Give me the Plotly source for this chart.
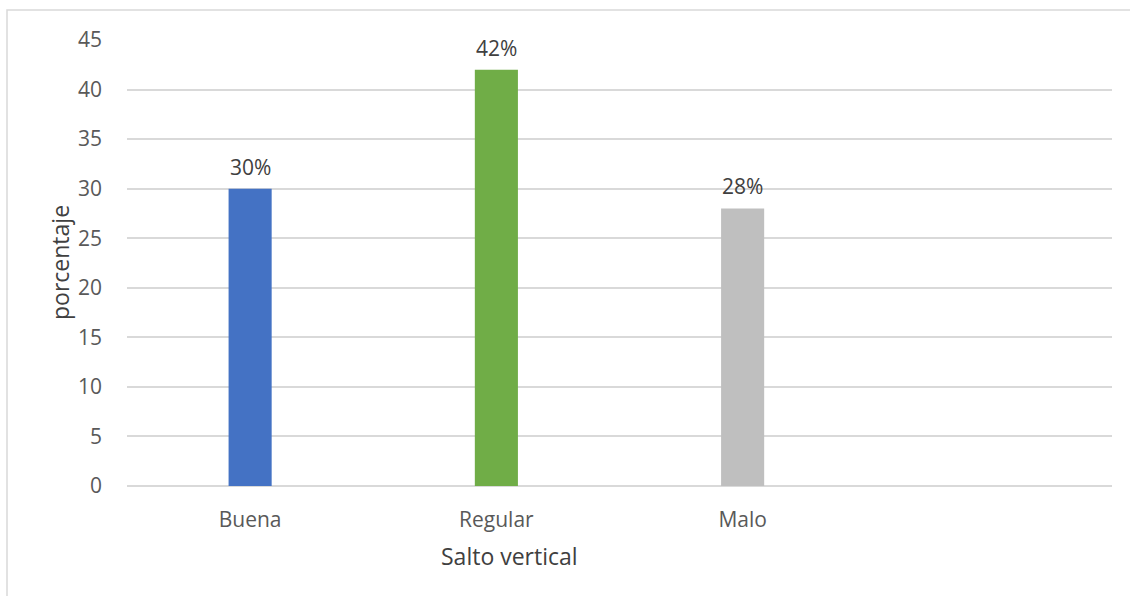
import plotly.graph_objects as go

# Categories and values (percent)
categorias = ["Buena", "Regular", "Malo", " "]
porcentajes = [30, 42, 28, None]
colores = ["#4472C4", "#70AD47", "#BFBFBF", "#FFFFFF"]
etiquetas = ["30%", "42%", "28%", ""]
ticks_y = [0, 5, 10, 15, 20, 25, 30, 35, 40, 45]

FONT = "Open Sans"

fig = go.Figure()
fig.add_trace(go.Bar(
    x=categorias,
    y=porcentajes,
    marker=dict(color=colores, line=dict(width=0)),
    hoverinfo="skip",
))

# Value labels above each bar
for cat, val, txt in zip(categorias, porcentajes, etiquetas):
    if val is None:
        continue
    fig.add_annotation(
        x=cat, y=val, text=txt, showarrow=False,
        yanchor="bottom", yshift=6,
        font=dict(family=FONT, size=21, color="#404040"),
    )

# Axis titles
fig.add_annotation(
    xref="paper", yref="paper", x=(60 - 127) / 985, y=0.5,
    text="porcentaje", textangle=-90, showarrow=False,
    xanchor="center", yanchor="middle",
    font=dict(family=FONT, size=23, color="#404040"),
)
fig.add_annotation(
    xref="paper", yref="paper", x=(509 - 127) / 985, y=-(556 - 486) / 446,
    text="Salto vertical", showarrow=False,
    xanchor="center", yanchor="middle",
    font=dict(family=FONT, size=23, color="#404040"),
)

# Outer chart border
fig.add_shape(
    type="rect", xref="paper", yref="paper",
    x0=(7 - 127) / 985, x1=1.2, y0=-0.5, y1=(486 - 10) / 446,
    line=dict(color="#D9D9D9", width=1.5), fillcolor="rgba(0,0,0,0)",
    layer="below",
)

fig.update_layout(
    width=1130, height=596,
    margin=dict(l=127, r=18, t=40, b=110),
    paper_bgcolor="white", plot_bgcolor="white",
    bargap=0.825,
    showlegend=False,
    font=dict(family=FONT, size=21, color="#595959"),
    xaxis=dict(
        type="category", categoryorder="array", categoryarray=categorias,
        showgrid=False, showline=False, ticks="", zeroline=False,
        tickfont=dict(family=FONT, size=21, color="#595959"),
        ticklabelstandoff=19,
    ),
    yaxis=dict(
        range=[0, 45], tickvals=ticks_y, showgrid=True,
        gridcolor="#D9D9D9", gridwidth=1.5, zeroline=True,
        zerolinecolor="#D9D9D9", zerolinewidth=1.5, showline=False,
        tickfont=dict(family=FONT, size=21, color="#595959"),
        ticklabelstandoff=24,
    ),
)

fig.write_html("out.html")
